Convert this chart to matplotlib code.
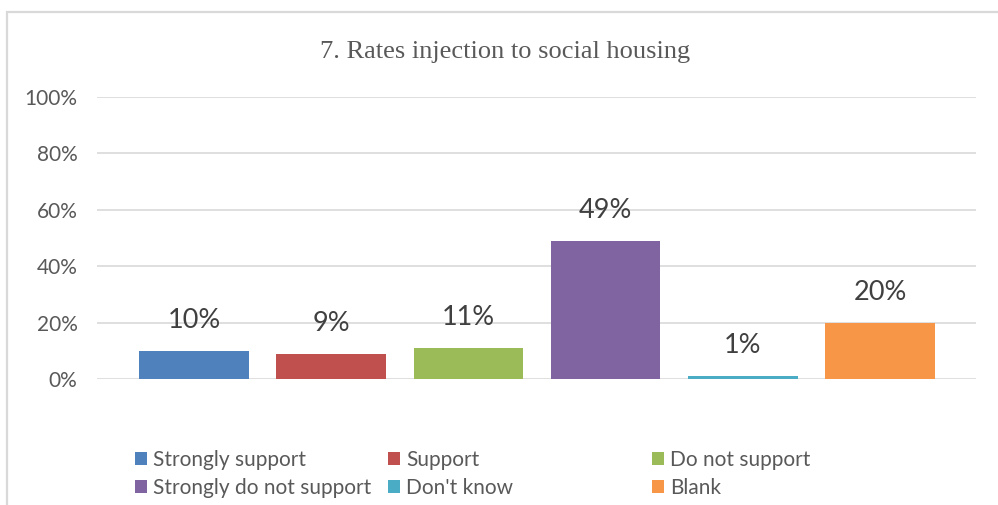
import matplotlib.pyplot as plt
from matplotlib.patches import Patch, Rectangle

categories = ["Strongly support", "Support", "Do not support",
              "Strongly do not support", "Don't know", "Blank"]
values = [10, 9, 11, 49, 1, 20]
colors = ["#4F81BD", "#C0504D", "#9BBB59", "#8064A2", "#4BACC6", "#F79646"]
yticks = [0, 20, 40, 60, 80, 100]

fig = plt.figure(figsize=(9.98, 5.05), dpi=100)

# light frame round the chart area
fig.patches.append(Rectangle((7 / 998, -0.1), 1.2, 1 - 12 / 505 + 0.1,
                             transform=fig.transFigure, fill=False,
                             edgecolor="#D9D9D9", linewidth=1.6))

ax = fig.add_axes([97 / 998, 1 - 379 / 505, (976 - 97) / 998, (379 - 97) / 505])

x = range(len(categories))
bars = ax.bar(x, values, width=0.8, color=colors, zorder=3)
ax.set_xlim(-0.707, 5.70)
ax.set_ylim(0, 100)

for b, v in zip(bars, values):
    ax.annotate(f"{v}%", (b.get_x() + b.get_width() / 2, v),
                xytext=(0, 13), textcoords="offset points",
                ha="center", va="bottom", fontsize=19.5,
                family="Lato", color="#404040")

ax.set_yticks(yticks)
ax.set_yticklabels([f"{t}%" for t in yticks], family="Lato",
                   fontsize=15, color="#595959")
ax.set_xticks([])
ax.tick_params(axis="y", length=0, pad=14)
ax.grid(axis="y", color="#D9D9D9", linewidth=1.2, zorder=0)
for s in ax.spines.values():
    s.set_visible(False)

fig.text(505 / 998, 1 - 58 / 505, "7. Rates injection to social housing",
         ha="center", va="baseline", family="Liberation Serif",
         fontsize=19, color="#595959")

# legend laid out in three columns, two rows
handles = [Patch(facecolor=c) for c in colors]
col_x = [135, 388, 652]
for col in range(3):
    idx = [col, col + 3]
    fig.legend([handles[i] for i in idx], [categories[i] for i in idx],
               loc="upper left", bbox_to_anchor=(col_x[col] / 998, 1 - 450 / 505),
               frameon=False, borderpad=0, borderaxespad=0,
               handlelength=0.58, handleheight=0.58, handletextpad=0.3,
               labelspacing=0.37, labelcolor="#595959",
               prop={"family": "Lato", "size": 15})

fig.savefig("out.png", dpi=100)
